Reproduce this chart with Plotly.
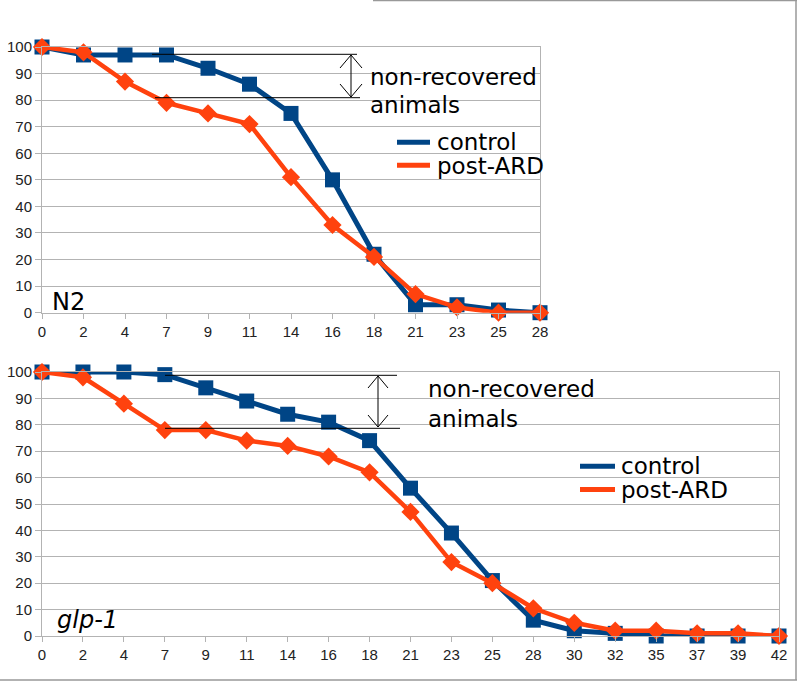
import plotly.graph_objects as go

# ---------------- data ----------------
days_n2 = [0, 2, 4, 7, 9, 11, 14, 16, 18, 21, 23, 25, 28]
n2_control = [100, 97, 97, 97, 92, 86, 75, 50, 22, 3, 3, 1, 0]
n2_post_ard = [100, 98, 87, 79, 75, 71, 51, 33, 21, 7, 2, 0, 0]

days_glp1 = [0, 2, 4, 7, 9, 11, 14, 16, 18, 21, 23, 25, 28, 30, 32, 35, 37, 39, 42]
glp1_control = [100, 100, 100, 99, 94, 89, 84, 81, 74, 56, 39, 21, 6, 2, 1, 0, 0, 0, 0]
glp1_post_ard = [100, 98, 88, 78, 78, 74, 72, 68, 62, 47, 28, 20, 10.5, 5, 2, 2, 1, 1, 0]

series_names = ["control", "post-ARD"]
y_ticks = list(range(0, 101, 10))

# ---------------- styling ----------------
W, H = 797, 683
BLUE = "#004586"
ORANGE = "#ff420e"
GRID = "#b3b3b3"
TICKFONT = dict(family="Liberation Sans, Arial, sans-serif", size=15, color="#222222")
TXTFONT = dict(family="DejaVu Sans, sans-serif", size=23, color="#000000")


def px(x):
    return x / W


def py(y):
    return 1 - y / H


fig = go.Figure()

panels = [
    ("x", "y", days_n2, n2_control, n2_post_ard),
    ("x2", "y2", days_glp1, glp1_control, glp1_post_ard),
]
for xa, ya, days, ctrl, post in panels:
    cats = [str(d) for d in days]
    fig.add_trace(go.Scatter(
        x=cats, y=ctrl, xaxis=xa, yaxis=ya, mode="lines+markers",
        name=series_names[0], showlegend=False, cliponaxis=False,
        line=dict(color=BLUE, width=5),
        marker=dict(symbol="square", size=15, color=BLUE)))
    fig.add_trace(go.Scatter(
        x=cats, y=post, xaxis=xa, yaxis=ya, mode="lines+markers",
        name=series_names[1], showlegend=False, cliponaxis=False,
        line=dict(color=ORANGE, width=4.5),
        marker=dict(symbol="diamond", size=14, color=ORANGE)))

common_x = dict(type="category", showgrid=False, showline=True, mirror=True,
                linecolor=GRID, linewidth=1, ticks="outside", ticklen=5,
                tickcolor=GRID, tickfont=TICKFONT, automargin=False, fixedrange=True)
common_y = dict(range=[0, 100], tickvals=y_ticks, showgrid=True, gridcolor=GRID,
                gridwidth=1, showline=True, mirror=True, linecolor=GRID, linewidth=1,
                ticks="outside", ticklen=6, tickcolor=GRID, tickfont=TICKFONT,
                zeroline=False, automargin=False, fixedrange=True)

fig.update_layout(
    width=W, height=H,
    margin=dict(l=0, r=0, t=0, b=0),
    paper_bgcolor="white", plot_bgcolor="white",
    showlegend=False,
    xaxis=dict(domain=[px(42), px(540)], anchor="y",
               range=[0, len(days_n2) - 1], **common_x),
    yaxis=dict(domain=[py(312.7), py(47)], anchor="x", **common_y),
    xaxis2=dict(domain=[px(42), px(779)], anchor="y2",
                range=[0, len(days_glp1) - 1], **common_x),
    yaxis2=dict(domain=[py(636), py(372)], anchor="x2", **common_y),
)

shapes = []


def seg(x0, y0, x1, y1, color="#000000", width=1):
    shapes.append(dict(type="line", xref="paper", yref="paper",
                       x0=px(x0), y0=py(y0), x1=px(x1), y1=py(y1),
                       line=dict(color=color, width=width), layer="above"))


def double_arrow(x, ytop, ybot, hw=11, hh=13):
    seg(x, ytop, x, ybot)
    seg(x, ytop, x - hw, ytop + hh)
    seg(x, ytop, x + hw, ytop + hh)
    seg(x, ybot, x - hw, ybot - hh)
    seg(x, ybot, x + hw, ybot - hh)


# top panel annotation lines
seg(152, 54.3, 357, 54.3)
seg(155, 97.7, 360, 97.7)
double_arrow(351, 55, 97)
# bottom panel annotation lines
seg(165, 375.3, 397, 375.3)
seg(165, 428.3, 400, 428.3)
double_arrow(378, 376, 427, hw=10, hh=12)

# legend line samples
seg(397, 142.3, 430, 142.3, BLUE, 5)
seg(397, 165.3, 430, 165.3, ORANGE, 5)
seg(580, 466.3, 615, 466.3, BLUE, 5)
seg(580, 489.5, 615, 489.5, ORANGE, 5)

# page frame lines
seg(373, 0.5, 797, 0.5, "#999999", 1.5)
seg(796, 0, 796, 680, "#999999", 1.5)
seg(0, 680, 797, 680, "#999999", 1.5)

fig.update_layout(shapes=shapes)

annotations = []


def text(x, y, s, size=23, italic=False):
    t = f"<i>{s}</i>" if italic else s
    annotations.append(dict(xref="paper", yref="paper", x=px(x), y=py(y), text=t,
                            showarrow=False, xanchor="left", yanchor="middle",
                            font=dict(TXTFONT, size=size)))


text(368, 77.3, "non-recovered")
text(368, 104.7, "animals")
text(435, 142.3, series_names[0])
text(435, 165.7, series_names[1])
text(50, 302, "N2", size=24)

text(426, 389, "non-recovered")
text(426, 418.7, "animals")
text(619, 466.3, series_names[0])
text(619, 489.7, series_names[1])
text(55, 619.5, "glp-1", size=24, italic=True)

fig.update_layout(annotations=annotations)

fig.write_html(
    "out.html",
    config={"displayModeBar": False},
    post_script="document.body.style.margin='0';document.body.style.padding='0';"
                "document.body.style.overflow='hidden';",
)
